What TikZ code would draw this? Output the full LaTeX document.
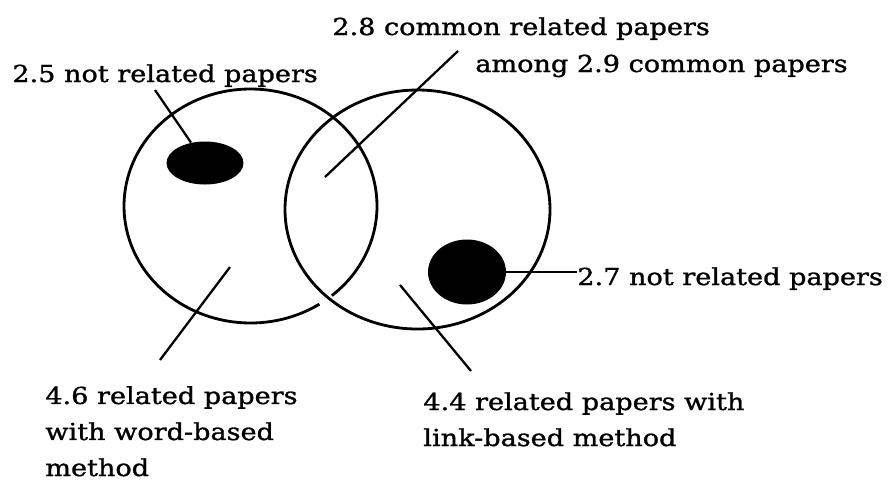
\documentclass[tikz,border=0pt]{standalone}
\usepackage{fontspec}
\setmainfont[FakeStretch=1.16,FakeBold=1.2]{DejaVu Serif}
\usetikzlibrary{positioning,shapes.geometric}

\begin{document}
\begin{tikzpicture}[
    x=0.02cm, y=0.02cm,
    font=\fontsize{13.3pt}{20.5pt}\selectfont,
    txt/.style={inner sep=0pt,anchor=base west,align=left},
    blob/.style={fill=black,ellipse,inner sep=0pt},
    ring/.style={line width=1.6pt},
    pointer/.style={line width=1.3pt}
]
  \useasboundingbox (0,0) rectangle (888,-485);

  \draw[ring] (250.5,-206) ++(-50:126.5 and 117)
    arc[start angle=-50,end angle=303,x radius=126.5,y radius=117];
  \draw[ring] (417.5,-209.5) ellipse[x radius=132.5,y radius=119.5];

  \node[blob,minimum width=1.54cm,minimum height=0.86cm] (blobL) at (205,-163) {};
  \node[blob,minimum width=1.56cm,minimum height=1.30cm] (blobR) at (467,-272) {};

  \node[txt] (t25) at (12,-82) {2.5 not related papers};
  \node[txt] (t28a) at (332,-35) {2.8 common related papers};
  \node[txt] (t28b) at (475,-72) {among 2.9 common papers};
  \node[txt] (t27) at (577,-285) {2.7 not related papers};
  \node[txt] (t46) at (45,-476) {4.6 related papers\\with word-based\\method};
  \node[txt] (t44) at (423,-446) {4.4 related papers with\\link-based method};

  \coordinate (p25) at (155,-90);
  \coordinate (p28) at (325,-177);
  \coordinate (q28) at (458,-51);
  \coordinate (p46) at (230,-267);
  \coordinate (q46) at (160,-360);
  \coordinate (p44) at (400,-285);
  \coordinate (q44) at (471,-371);

  \draw[pointer] (p25) -- (blobL);
  \draw[pointer] (p28) -- (q28);
  \draw[pointer] (blobR) -- (blobR -| t27.west);
  \draw[pointer] (p46) -- (q46);
  \draw[pointer] (p44) -- (q44);
\end{tikzpicture}
\end{document}
